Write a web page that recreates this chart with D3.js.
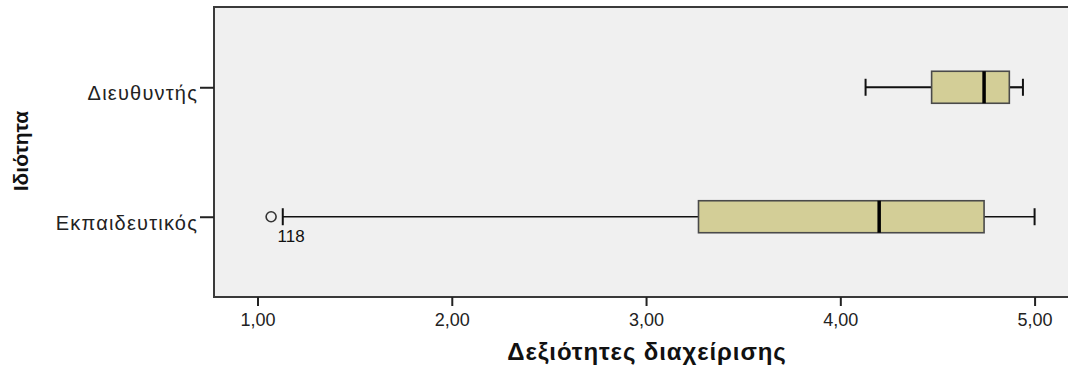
<!DOCTYPE html>
<html>
<head>
<meta charset="utf-8">
<script src="https://cdn.jsdelivr.net/npm/d3@7"></script>
<style>
  body { margin: 0; background: #fff; }
  svg { display: block; font-family: "Liberation Sans", Arial, sans-serif; }
</style>
</head>
<body>
<div id="chart"></div>
<script>
// Data
const categories = ['Διευθυντής', 'Εκπαιδευτικός'];
const whiskerLow = [4.13, 1.13];
const q1 = [4.47, 3.27];
const median = [4.74, 4.20];
const q3 = [4.87, 4.74];
const whiskerHigh = [4.94, 5.00];
const outlierCats = ['Εκπαιδευτικός'];
const outlierValues = [1.07];
const outlierLabels = ['118'];
const xTicks = [1, 2, 3, 4, 5];

const xTitle = 'Δεξιότητες διαχείρισης';
const yTitle = 'Ιδιότητα';

const width = 1068, height = 371;
const frame = { left: 214, right: 1068, top: 7, bottom: 297 };

const svg = d3.select('#chart').append('svg')
    .attr('width', width)
    .attr('height', height);

const x = d3.scaleLinear()
    .domain([0.776, 5.172])
    .range([frame.left, frame.right]);

const y = d3.scalePoint()
    .domain(categories)
    .range([frame.top, frame.bottom])
    .padding(0.62);

// plot area
svg.append('rect')
    .attr('x', frame.left)
    .attr('y', frame.top)
    .attr('width', frame.right - frame.left + 5)
    .attr('height', frame.bottom - frame.top)
    .attr('fill', '#f0f0f0')
    .attr('stroke', '#3a3a3a')
    .attr('stroke-width', 2);

const boxHalf = 16, capHalf = 8.5;
const whiskerWidth = { 'Διευθυντής': 2.2, 'Εκπαιδευτικός': 1.3 };

const rows = categories.map((c, i) => ({
    cat: c, lo: whiskerLow[i], q1: q1[i], med: median[i], q3: q3[i], hi: whiskerHigh[i]
}));

const g = svg.append('g');
const row = g.selectAll('.row').data(rows).enter().append('g').attr('class', 'row');

// whiskers
row.append('line')
    .attr('x1', d => x(d.lo)).attr('x2', d => x(d.q1))
    .attr('y1', d => y(d.cat)).attr('y2', d => y(d.cat))
    .attr('stroke', '#111').attr('stroke-width', d => whiskerWidth[d.cat]);
row.append('line')
    .attr('x1', d => x(d.q3)).attr('x2', d => x(d.hi))
    .attr('y1', d => y(d.cat)).attr('y2', d => y(d.cat))
    .attr('stroke', '#111').attr('stroke-width', d => whiskerWidth[d.cat]);
['lo', 'hi'].forEach(k => {
    row.append('line')
        .attr('x1', d => x(d[k])).attr('x2', d => x(d[k]))
        .attr('y1', d => y(d.cat) - capHalf).attr('y2', d => y(d.cat) + capHalf)
        .attr('stroke', '#111').attr('stroke-width', 2);
});

// boxes
row.append('rect')
    .attr('x', d => x(d.q1))
    .attr('width', d => x(d.q3) - x(d.q1))
    .attr('y', d => y(d.cat) - boxHalf)
    .attr('height', boxHalf * 2)
    .attr('fill', '#d3ce97')
    .attr('stroke', '#4a4a4a')
    .attr('stroke-width', 1.6);

// median
row.append('line')
    .attr('x1', d => x(d.med)).attr('x2', d => x(d.med))
    .attr('y1', d => y(d.cat) - boxHalf).attr('y2', d => y(d.cat) + boxHalf)
    .attr('stroke', '#000').attr('stroke-width', 3.5);

// outliers
const outs = outlierCats.map((c, i) => ({ cat: c, v: outlierValues[i], label: outlierLabels[i] }));
g.selectAll('.outlier').data(outs).enter().append('circle')
    .attr('cx', d => x(d.v))
    .attr('cy', d => y(d.cat))
    .attr('r', 5)
    .attr('fill', 'none')
    .attr('stroke', '#333')
    .attr('stroke-width', 1.6);
g.selectAll('.outlier-label').data(outs).enter().append('text')
    .attr('x', d => x(d.v) + 20)
    .attr('y', d => y(d.cat) + 25)
    .attr('text-anchor', 'middle')
    .attr('font-size', 17)
    .attr('fill', '#111')
    .text(d => d.label);

// axes
const xAxis = svg.append('g')
    .attr('transform', `translate(0,${frame.bottom})`)
    .call(d3.axisBottom(x)
        .tickValues(xTicks)
        .tickFormat(d => d3.format('.2f')(d).replace('.', ','))
        .tickSize(9)
        .tickPadding(7));
xAxis.select('.domain').remove();
xAxis.selectAll('line').attr('stroke', '#222').attr('stroke-width', 2);
xAxis.selectAll('text').attr('font-size', 18).attr('fill', '#222')
    .attr('font-family', '"Liberation Sans", Arial, sans-serif');

const yAxis = svg.append('g')
    .attr('transform', `translate(${frame.left},0)`)
    .call(d3.axisLeft(y).tickSize(14).tickPadding(2));
yAxis.select('.domain').remove();
yAxis.selectAll('line').attr('stroke', '#222').attr('stroke-width', 2);
yAxis.selectAll('text').attr('font-size', 20).attr('fill', '#222')
    .attr('dy', '0.62em')
    .attr('letter-spacing', '1.2px')
    .attr('font-family', '"Liberation Sans", Arial, sans-serif');

// titles
svg.append('text')
    .attr('x', 647)
    .attr('y', 360)
    .attr('text-anchor', 'middle')
    .attr('font-size', 24)
    .attr('font-weight', 'bold')
    .attr('letter-spacing', '0.9px')
    .attr('fill', '#111')
    .text(xTitle);

svg.append('text')
    .attr('transform', 'translate(28,151) rotate(-90)')
    .attr('text-anchor', 'middle')
    .attr('font-size', 21)
    .attr('font-weight', 'bold')
    .attr('fill', '#111')
    .text(yTitle);
</script>
</body>
</html>
